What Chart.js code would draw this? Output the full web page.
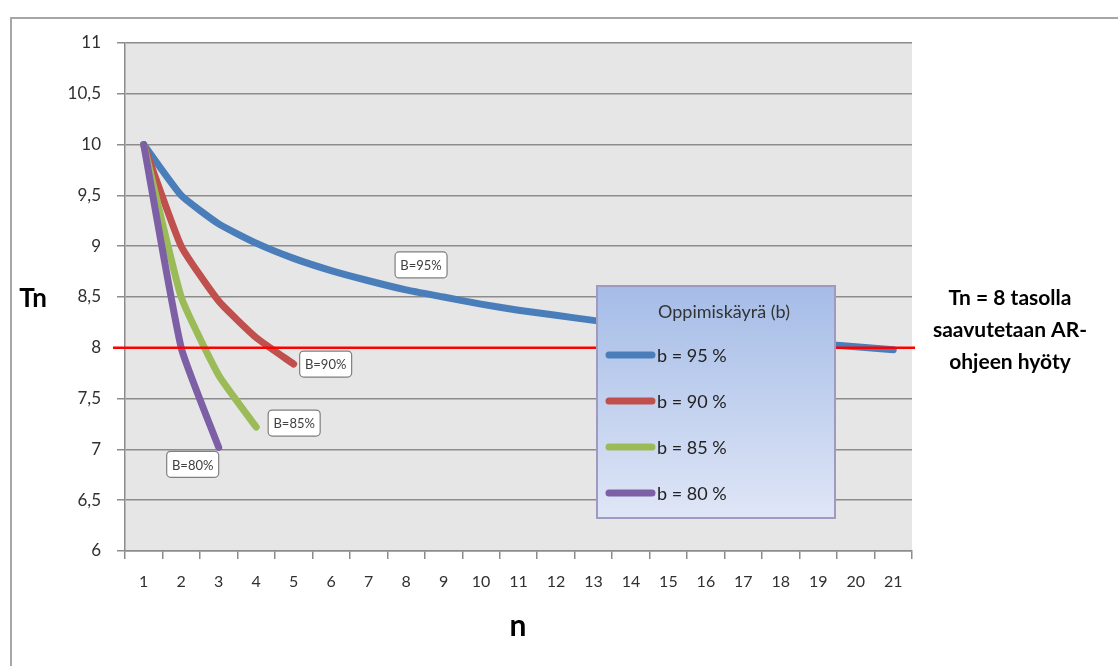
<!DOCTYPE html>
<html>
<head>
<meta charset="utf-8">
<script src="https://cdn.jsdelivr.net/npm/chart.js@4"></script>
<style>
  html, body { margin: 0; padding: 0; background: #fff; }
  #wrap { width: 1118px; height: 666px; position: relative; }
</style>
</head>
<body>
<div id="wrap"><canvas id="chart"></canvas></div>
<script>
// n = toistokerta, Tn = suoritusaika
let labels = ["1","2","3","4","5","6","7","8","9","10","11","12","13","14","15","16","17","18","19","20","21"];
let b95 = [10, 9.5, 9.22, 9.03, 8.88, 8.76, 8.66, 8.57, 8.5, 8.43, 8.37, 8.32, 8.27, 8.23, 8.18, 8.15, 8.11, 8.07, 8.04, 8.01, 7.98];
let b90 = [10, 9.0, 8.46, 8.1, 7.84];
let b85 = [10, 8.5, 7.73, 7.22];
let b80 = [10, 8.0, 7.02];
let seriesNames = ["b = 95 %", "b = 90 %", "b = 85 %", "b = 80 %"];
let pointLabels = ["B=95%", "B=90%", "B=85%", "B=80%"];
let colors = ["#4a7ebb", "#c0504d", "#9bbb59", "#7d5fa6"];
let yTicks = [6, 6.5, 7, 7.5, 8, 8.5, 9, 9.5, 10, 10.5, 11];
let targetLevel = 8;

const FONT = "Lato, 'Open Sans', sans-serif";
const series = [b95, b90, b85, b80];

// taustat, reunat ja tekstit
const decor = {
  id: 'decor',
  beforeDraw(chart) {
    const c = chart.ctx, a = chart.chartArea;
    c.save();
    c.strokeStyle = '#a6a6a6';
    c.lineWidth = 2;
    c.beginPath();
    c.moveTo(1118, 18); c.lineTo(11, 18); c.lineTo(11, 666);
    c.stroke();
    c.fillStyle = '#e6e6e6';
    c.fillRect(a.left, a.top, a.right - a.left, a.bottom - a.top);
    c.restore();
  },
  afterDatasetsDraw(chart) {
    const c = chart.ctx, a = chart.chartArea;
    const x = chart.scales.x, y = chart.scales.y;
    c.save();
    // Tn = 8 viiva
    const yy = y.getPixelForValue(targetLevel);
    c.strokeStyle = '#ff0000';
    c.lineWidth = 2.5;
    c.beginPath();
    c.moveTo(a.left - 12, yy); c.lineTo(a.right + 3, yy);
    c.stroke();

    // datalabelit
    const spots = [
      {k: 0, i: 7, dx: 15, dy: -25, align: 'center'},
      {k: 1, i: 4, dx: 6, dy: 0, align: 'left'},
      {k: 2, i: 3, dx: 12, dy: -4, align: 'left'},
      {k: 3, i: 2, dx: -26, dy: 17, align: 'center'}
    ];
    c.font = '13px ' + FONT;
    c.textBaseline = 'middle';
    spots.forEach(s => {
      const v = series[s.k][s.i];
      const px = x.getPixelForValue(s.i), py = y.getPixelForValue(v);
      const w = 52, h = 26;
      let bx = s.align === 'center' ? px + s.dx - w / 2 : px + s.dx;
      let by = py + s.dy - h / 2;
      c.fillStyle = '#ffffff';
      c.strokeStyle = '#7f7f7f';
      c.lineWidth = 1.2;
      c.beginPath();
      c.roundRect(bx, by, w, h, 4);
      c.fill(); c.stroke();
      c.fillStyle = '#404040';
      c.textAlign = 'center';
      c.fillText(pointLabels[s.k], bx + w / 2, by + h / 2 + 1);
    });

    // selite
    const lx = 597, ly = 286, lw = 238, lh = 232;
    const g = c.createLinearGradient(0, ly, 0, ly + lh);
    g.addColorStop(0, '#a5bce7');
    g.addColorStop(1, '#dfe6f6');
    c.fillStyle = g;
    c.fillRect(lx, ly, lw, lh);
    c.strokeStyle = '#a099c0';
    c.lineWidth = 2;
    c.strokeRect(lx, ly, lw, lh);
    c.fillStyle = '#333333';
    c.font = '18px ' + FONT;
    c.textAlign = 'left';
    c.fillText('Oppimiskäyrä (b)', 658, 312);
    seriesNames.forEach((name, k) => {
      const ty = 355 + k * 46;
      c.strokeStyle = colors[k];
      c.lineWidth = 7;
      c.lineCap = 'round';
      c.beginPath();
      c.moveTo(609, ty); c.lineTo(652, ty);
      c.stroke();
      c.fillStyle = '#222222';
      c.fillText(name, 657, ty + 1);
    });

    // akselien otsikot ja huomautus
    c.fillStyle = '#000000';
    c.textAlign = 'center';
    c.font = 'bold 26px ' + FONT;
    c.fillText('Tn', 33, 299);
    c.font = 'bold 30px ' + FONT;
    c.fillText('n', 518, 626);
    c.font = 'bold 21px ' + FONT;
    c.fillText('Tn = 8 tasolla', 1010, 298);
    c.fillText('saavutetaan AR-', 1010, 330);
    c.fillText('ohjeen hyöty', 1010, 362);
    c.restore();
  }
};

const mk = (k) => ({
  label: seriesNames[k],
  data: series[k],
  borderColor: colors[k],
  backgroundColor: colors[k],
  borderWidth: 7,
  borderCapStyle: 'round',
  borderJoinStyle: 'round',
  pointRadius: 0,
  tension: 0.15,
  fill: false
});

new Chart(document.getElementById('chart'), {
  type: 'line',
  data: {
    labels: labels,
    datasets: [mk(3), mk(2), mk(1), mk(0)]
  },
  options: {
    responsive: true,
    maintainAspectRatio: false,
    animation: false,
    layout: { padding: { left: 0, top: 43, right: 206, bottom: 0 } },
    plugins: { legend: { display: false }, tooltip: { enabled: false } },
    scales: {
      x: {
        type: 'category',
        offset: true,
        afterFit(s) { s.height = 115; },
        grid: { offset: true, drawOnChartArea: false, drawTicks: true, tickLength: 8, color: '#8c8c8c', lineWidth: 1.5 },
        border: { color: '#8c8c8c', width: 1.5 },
        ticks: { color: '#303030', font: { family: FONT, size: 16 }, padding: 13, maxRotation: 0, autoSkip: false }
      },
      y: {
        min: 6, max: 11,
        afterFit(s) { s.width = 125; },
        afterBuildTicks(s) { s.ticks = yTicks.map(v => ({ value: v })); },
        grid: { color: '#8c8c8c', lineWidth: 1.5, tickLength: 8 },
        border: { color: '#8c8c8c', width: 1.5 },
        ticks: {
          color: '#303030', font: { family: FONT, size: 17 }, padding: 16,
          callback: v => String(v).replace('.', ',')
        }
      }
    }
  },
  plugins: [decor]
});
</script>
</body>
</html>
